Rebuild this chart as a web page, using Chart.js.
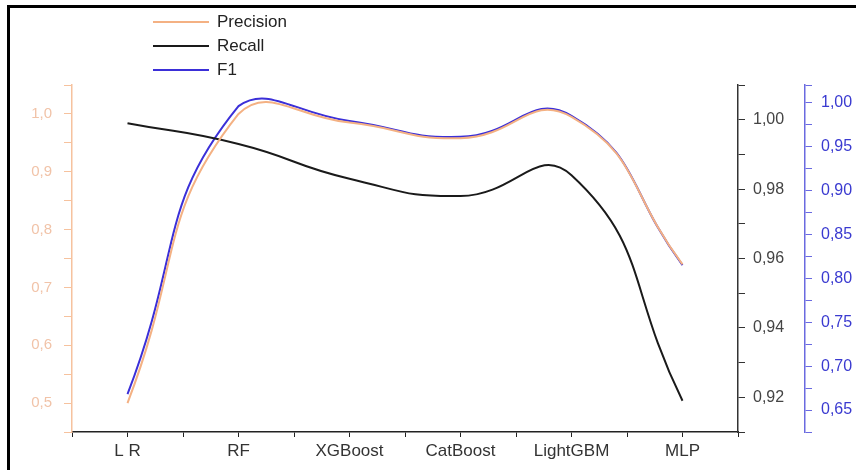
<!DOCTYPE html>
<html>
<head>
<meta charset="utf-8">
<script src="https://cdn.jsdelivr.net/npm/chart.js@4.4.1/dist/chart.umd.min.js"></script>
<style>
  body { margin: 0; background: #fff; overflow: hidden; }
  #wrap { position: relative; width: 856px; height: 470px; overflow: hidden; }
  #frame { position: absolute; left: 7px; top: 5px; width: 900px; height: 500px;
           border-left: 3px solid #000; border-top: 3px solid #000; pointer-events: none; }
</style>
</head>
<body>
<div id="wrap">
  <canvas id="chart" width="856" height="470"></canvas>
  <div id="frame"></div>
</div>
<script>
const models = ["L R", "RF", "XGBoost", "CatBoost", "LightGBM", "MLP"];
const precision = [0.50, 1.00, 0.985, 0.958, 0.995, 0.74];
const recall = [0.999, 0.993, 0.983, 0.978, 0.984, 0.919];
const f1 = [0.668, 0.996, 0.979, 0.961, 0.985, 0.815];

Chart.defaults.font.family = "'Liberation Sans', Arial, sans-serif";

const ctx = document.getElementById("chart");

// ticks every step between min and max (minor + major)
function tickList(min, max, step) {
  const t = [];
  for (let v = min; v <= max + 1e-9; v += step) t.push({ value: +v.toFixed(4) });
  if (Math.abs(t[t.length - 1].value - max) > 1e-6) t.push({ value: max });
  return t;
}
const comma = (v, d) => v.toFixed(d).replace(".", ",");
const isMult = (v, m) => Math.abs(v / m - Math.round(v / m)) < 1e-6;

const points = (arr) => arr.map((v, i) => ({ x: i + 1, y: v }));

const legendPlugin = {
  id: "sideLegend",
  afterDraw(chart) {
    const c = chart.ctx;
    c.save();
    c.font = "17px 'Liberation Sans', Arial, sans-serif";
    c.textBaseline = "middle";
    c.fillStyle = "#222";
    const rows = [22, 46, 70];
    chart.data.datasets.forEach((ds, i) => {
      c.strokeStyle = ds.borderColor;
      c.lineWidth = 2;
      c.beginPath();
      c.moveTo(153, rows[i]);
      c.lineTo(209, rows[i]);
      c.stroke();
      c.fillText(ds.label, 217, rows[i]);
    });
    c.restore();
  },
};

const config = {
  type: "line",
  data: {
    datasets: [
      {
        label: "Precision",
        data: points(precision),
        borderColor: "#f4b183",
        borderWidth: 2,
        yAxisID: "yP",
      },
      {
        label: "Recall",
        data: points(recall),
        borderColor: "#1a1a1a",
        borderWidth: 2,
        yAxisID: "yR",
      },
      {
        label: "F1",
        data: points(f1),
        borderColor: "#3b2fd8",
        borderWidth: 2,
        yAxisID: "yF",
      },
    ],
  },
  options: {
    responsive: false,
    animation: false,
    layout: { padding: { left: 0, right: 0, top: 85, bottom: 0 } },
    elements: {
      point: { radius: 0 },
      line: { tension: 0.5 },
    },
    plugins: {
      legend: { display: false },
      tooltip: { enabled: false },
    },
    scales: {
      x: {
        type: "linear",
        min: 0.5,
        max: 6.5,
        afterBuildTicks: (s) => { s.ticks = tickList(0.5, 6.5, 0.5); },
        afterFit: (s) => { s.height = 38; },
        border: { color: "#222", width: 1.5 },
        grid: { drawOnChartArea: false, tickLength: 5, tickColor: "#222" },
        ticks: {
          color: "#333",
          font: { size: 17 },
          padding: 4,
          maxRotation: 0,
          autoSkip: false,
          callback: (v) => (Number.isInteger(v) ? models[v - 1] : ""),
        },
      },
      yP: {
        position: "left",
        min: 0.45,
        max: 1.05,
        afterBuildTicks: (s) => { s.ticks = tickList(0.45, 1.05, 0.05); },
        afterFit: (s) => { s.width = 72; },
        border: { color: "#f6c29e", width: 1.5 },
        grid: { drawOnChartArea: false, tickLength: 8, tickColor: "#f6c29e" },
        ticks: {
          color: "#f1c3a8",
          font: { size: 15 },
          padding: 12,
          autoSkip: false,
          callback: (v) => (isMult(v, 0.1) ? comma(v, 1) : ""),
        },
      },
      yR: {
        position: "right",
        weight: 0,
        min: 0.91,
        max: 1.01,
        afterBuildTicks: (s) => { s.ticks = tickList(0.91, 1.01, 0.01); },
        afterFit: (s) => { s.width = 67; },
        border: { color: "#333", width: 1.5 },
        grid: { drawOnChartArea: false, tickLength: 7, tickColor: "#333" },
        ticks: {
          color: "#444",
          font: { size: 16 },
          padding: 8,
          autoSkip: false,
          callback: (v) => (isMult(v, 0.02) ? comma(v, 2) : ""),
        },
      },
      yF: {
        position: "right",
        weight: 1,
        min: 0.625,
        max: 1.02,
        afterBuildTicks: (s) => { s.ticks = tickList(0.625, 1.02, 0.025); },
        afterFit: (s) => { s.width = 51; },
        border: { color: "#6a6ae0", width: 1.5 },
        grid: { drawOnChartArea: false, tickLength: 7, tickColor: "#6a6ae0" },
        ticks: {
          color: "#3a3ad0",
          font: { size: 16 },
          padding: 9,
          autoSkip: false,
          callback: (v) => (isMult(v, 0.05) ? comma(v, 2) : ""),
        },
      },
    },
  },
  plugins: [legendPlugin],
};

const chart = new Chart(ctx, config);
</script>
</body>
</html>
